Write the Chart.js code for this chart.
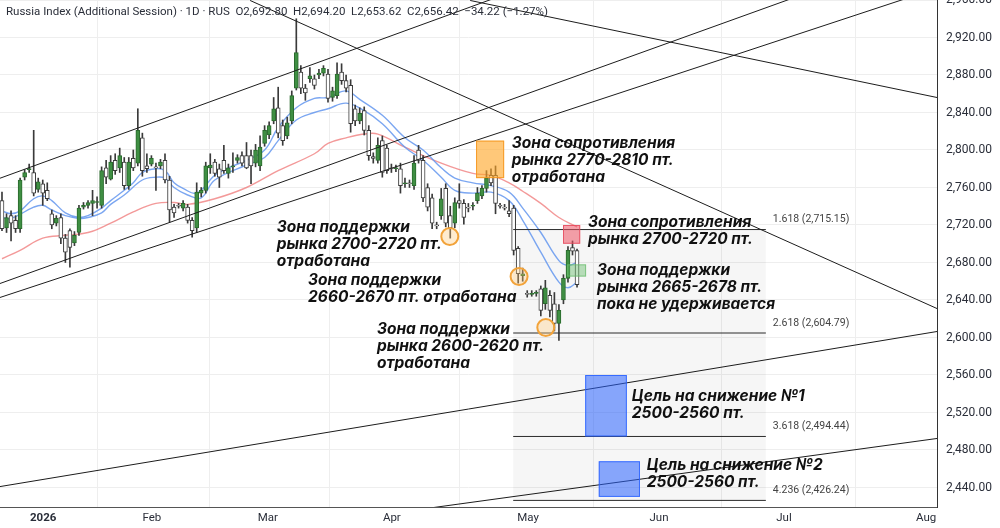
<!DOCTYPE html>
<html>
<head>
<meta charset="utf-8">
<script src="https://cdn.jsdelivr.net/npm/chart.js@4.4.1/dist/chart.umd.min.js"></script>
<style>
  html, body { margin: 0; padding: 0; background: #fff; }
  #wrap { width: 1000px; height: 528px; position: relative; }
</style>
</head>
<body>
<div id="wrap"><canvas id="chart" width="1000" height="528"></canvas></div>
<script>
// дневные свечи (индекс бара = порядковый номер дня на графике)
const opens  = [2746,2717,2730,2725,2716,2771,2779,2776,2758,2764,2757,2732,2722,2728,2706,2714,2701,2712,2739,2741,
                2743,2744,2741,2781,2769,2789,2781,2787,2762,2791,2786,2813,2783,2785,2782,2783,2789,2768,2739,2741,
                2738,2739,2725,2717,2754,2757,2781,2787,2780,2789,2775,2782,2789,2794,2794,2794,2786,2783,2807,2816,
                2831,2845,2826,2815,2831,2866,2883,2866,2876,2876,2880,2882,2881,2856,2858,2883,2874,2869,2844,2831,
                2842,2821,2793,2789,2810,2802,2781,2780,2780,2764,2765,2762,2800,2789,2760,2749,2720,2730,2759,2730,
                2722,2746,2743,2739,2740,2746,2751,2759,2773,2773,2741,2739,2735,2738,2695,2666,2647,2646,2647,2652,
                2636,2645,2636,2615,2640,2663,2696,2692.80];
const highs  = [2755,2732,2735,2730,2770,2779,2785,2821,2770,2768,2765,2736,2730,2732,2710,2716,2713,2741,2744,2746,
                2757,2750,2782,2789,2794,2796,2802,2792,2792,2800,2844,2818,2796,2794,2786,2790,2796,2772,2742,2743,
                2746,2742,2728,2765,2760,2787,2796,2790,2785,2805,2785,2797,2795,2798,2808,2800,2806,2815,2826,2830,
                2856,2867,2832,2835,2863,2940,2890,2870,2888,2880,2886,2890,2886,2867,2893,2892,2880,2875,2848,2845,
                2846,2826,2797,2813,2815,2805,2785,2784,2786,2770,2768,2794,2805,2794,2764,2753,2723,2759,2764,2740,
                2749,2764,2747,2743,2744,2760,2762,2778,2780,2783,2743,2742,2746,2741,2697,2674,2650,2650,2650,2655,
                2661,2650,2648,2635,2667,2697,2703,2694.20];
const lows   = [2714,2712,2703,2712,2712,2768,2776,2751,2755,2741,2746,2716,2719,2700,2680,2675,2698,2709,2737,2738,
                2730,2738,2738,2764,2768,2774,2776,2758,2758,2778,2783,2772,2776,2783,2757,2780,2765,2723,2728,2738,
                2735,2722,2707,2712,2750,2754,2775,2772,2760,2775,2770,2776,2786,2783,2780,2764,2782,2778,2804,2812,
                2828,2813,2805,2812,2828,2864,2860,2853,2872,2865,2876,2879,2851,2852,2855,2870,2862,2819,2826,2828,
                2816,2789,2786,2786,2771,2775,2776,2777,2754,2760,2760,2758,2786,2745,2735,2716,2716,2726,2718,2706,
                2717,2738,2721,2734,2736,2743,2748,2755,2762,2732,2738,2736,2729,2688,2658,2660,2643,2644,2644,2623,
                2630,2622,2607,2597,2636,2659,2688,2653.62];
const closes = [2716,2728,2722,2716,2768,2776,2780,2754,2766,2754,2748,2720,2727,2706,2691,2696,2709,2738,2741,2744,
                2746,2745,2778,2771,2787,2778,2794,2762,2787,2781,2821,2778,2780,2791,2781,2787,2768,2736,2733,2740,
                2743,2725,2714,2755,2757,2783,2784,2775,2771,2778,2781,2783,2792,2786,2781,2783,2800,2803,2821,2826,
                2844,2818,2810,2829,2858,2904,2866,2861,2879,2869,2882,2887,2855,2863,2881,2874,2866,2828,2831,2839,
                2821,2794,2791,2805,2776,2778,2780,2781,2762,2765,2764,2786,2789,2749,2739,2722,2719,2748,2722,2717,
                2744,2743,2728,2738,2741,2754,2759,2770,2765,2743,2740,2738,2732,2693,2668,2668,2646,2647,2647,2629,
                2653,2629,2615,2629,2663,2693,2692,2656.42];

// скользящие средние (бар -> значение)
const emaFastBars = [0,2,4,7,9,11,14,17,19,22,24,27,29,31,34,36,38,40,43,47,50,54,58,61,65,69,72,76,79,84,89,93,97,100,104,108,112,115,119,123,125,127];
const emaFastVals = [2735,2732,2735,2748,2751,2746,2733,2728,2730,2738,2746,2757,2765,2776,2780,2778,2765,2759,2754,2773,2781,2789,2800,2824,2845,2855,2856,2863,2854,2837,2813,2800,2781,2770,2765,2762,2755,2738,2712,2682,2677,2680];
const emaSlowBars = [0,2,7,9,11,14,17,19,22,24,27,31,34,36,38,41,44,47,54,58,61,65,69,72,76,80,84,89,93,97,100,104,108,112,115,119,123,125,127];
const emaSlowVals = [2728,2727,2739,2741,2736,2730,2727,2728,2733,2742,2752,2768,2771,2770,2760,2752,2749,2768,2784,2792,2810,2832,2840,2844,2850,2842,2828,2803,2789,2771,2757,2754,2755,2746,2725,2691,2659,2653,2659];
const smaLongBars = [0,4,9,14,19,24,29,34,38,41,47,54,61,69,72,76,80,83,89,97,104,108,112,115,119,123,127];
const smaLongVals = [2684,2693,2706,2709,2712,2722,2734,2743,2744,2742,2748,2760,2778,2796,2807,2813,2817,2817,2803,2786,2775,2773,2765,2756,2743,2728,2718];

// шкалы
const priceTicks = [2440,2480,2520,2560,2600,2640,2680,2720,2760,2800,2840,2880,2920,2960];
const monthLabels = ['2026','Feb','Mar','Apr','May','Jun','Jul','Aug'];
const monthBars = [9.1,33.1,58.7,86.1,116.2,145.1,172.7,204.1];

// уровни Фибоначчи
const fibRatios = ['1.618','2.618','3.618','4.236'];
const fibPrices = [2715.15,2604.79,2494.44,2426.24];
const fibFromBar = 112.9, fibToBar = 168.7;

// зоны (прямоугольники)
const zoneFromBar = [104.7,123.9,124.8,128.8,131.8];
const zoneToBar   = [110.9,127.7,129.0,138.0,140.9];
const zoneTop     = [2810,2720,2678,2560,2468];
const zoneBottom  = [2770,2700,2665,2494.44,2430];
const zoneFill   = ['rgba(255,167,38,0.62)','rgba(239,83,100,0.55)','rgba(102,187,106,0.45)','rgba(41,98,255,0.55)','rgba(41,98,255,0.55)'];
const zoneStroke = ['rgba(245,150,30,0.9)','rgba(230,70,90,0.8)','rgba(102,187,106,0.7)','rgba(41,98,255,0.85)','rgba(41,98,255,0.85)'];

// отметки касаний (кружки)
const touchBars = [98.9,114.2,120.1];
const touchPrices = [2707.7,2665.1,2610.7];

// трендовые линии: [бар1, цена1, бар2, цена2]
const trendLines = [
  [-0.44,2769.9,143.8,3023.5],
  [-0.44,2657.6,206.5,3017.4],
  [-0.44,2642.7,206.5,2972.5],
  [54.8,2959.5,206.5,2630.9],
  [103.4,2959.5,206.5,2856.0],
  [-0.44,2441.0,206.5,2606.4],
  [95.4,2418.7,206.5,2492.3]
];

const notes = [
  {bar:112.6, price:2806.9, lines:['Зона сопротивления','рынка 2770-2810 пт.','отработана']},
  {bar:60.7,  price:2717.3, lines:['Зона поддержки','рынка 2700-2720 пт.','отработана']},
  {bar:67.6,  price:2660.8, lines:['Зона поддержки','2660-2670 пт. отработана']},
  {bar:82.8,  price:2608.5, lines:['Зона поддержки','рынка 2600-2620 пт.','отработана']},
  {bar:129.4, price:2722.7, lines:['Зона сопротивления','рынка 2700-2720 пт.']},
  {bar:131.4, price:2671.5, lines:['Зона поддержки','рынка 2665-2678 пт.','пока не удерживается']},
  {bar:139.1, price:2537,   lines:['Цель на снижение №1','2500-2560 пт.']},
  {bar:142.4, price:2463.5, lines:['Цель на снижение №2','2500-2560 пт.']}
];

const titleText = 'Russia Index (Additional Session) · 1D · RUS  O2,692.80  H2,694.20  L2,653.62  C2,656.42  −34.22 (−1.27%)';

const idx = opens.map((_, i) => i);
const wickData = idx.map(i => ({x: i, y: [lows[i], highs[i]]}));
const bodyData = idx.map(i => ({x: i, y: [opens[i], closes[i]]}));
const isUp = idx.map(i => closes[i] >= opens[i]);

const pts = (bars, vals) => bars.map((b, i) => ({x: b, y: vals[i]}));

const datasets = [];
datasets.push({
  type: 'bar', data: bodyData, order: 1, grouped: false,
  barThickness: 4, minBarLength: 1, borderSkipped: false, borderWidth: 1,
  backgroundColor: isUp.map(u => u ? '#3f8f43' : '#ffffff'),
  borderColor: isUp.map(u => u ? '#2a6a2d' : '#3a3a3a')
});
datasets.push({
  type: 'bar', data: wickData, order: 2, grouped: false,
  barThickness: 1, backgroundColor: '#3a3a3a', borderWidth: 0
});
datasets.push({type: 'line', data: pts(emaFastBars, emaFastVals), borderColor: 'rgba(100,150,238,0.85)', borderWidth: 1.4, pointRadius: 0, tension: 0.4, order: 3});
datasets.push({type: 'line', data: pts(emaSlowBars, emaSlowVals), borderColor: 'rgba(100,150,238,0.85)', borderWidth: 1.4, pointRadius: 0, tension: 0.4, order: 3});
datasets.push({type: 'line', data: pts(smaLongBars, smaLongVals), borderColor: 'rgba(238,110,110,0.7)', borderWidth: 1.4, pointRadius: 0, tension: 0.4, order: 3});
trendLines.forEach(l => datasets.push({
  type: 'line', data: [{x: l[0], y: l[1]}, {x: l[2], y: l[3]}],
  borderColor: '#1c1c1c', borderWidth: 1, pointRadius: 0, order: 0
}));
fibPrices.forEach(p => datasets.push({
  type: 'line', data: [{x: fibFromBar, y: p}, {x: fibToBar, y: p}],
  borderColor: '#2a2a2a', borderWidth: 1, pointRadius: 0, order: 0
}));
datasets.push({
  type: 'line', data: pts(touchBars, touchPrices), showLine: false, order: -1,
  pointRadius: 8.5, pointStyle: 'circle', pointBorderWidth: 2,
  pointBorderColor: '#f2a33a', pointBackgroundColor: 'rgba(255,200,120,0.35)'
});

const overlays = {
  id: 'overlays',
  beforeDatasetsDraw(chart) {
    const {ctx, scales: {x, y}} = chart;
    ctx.save();
    ctx.fillStyle = 'rgba(0,0,0,0.035)';
    const x1 = x.getPixelForValue(fibFromBar), x2 = x.getPixelForValue(fibToBar);
    const y1 = y.getPixelForValue(fibPrices[0]), y2 = y.getPixelForValue(fibPrices[3]);
    ctx.fillRect(x1, y1, x2 - x1, y2 - y1);
    ctx.restore();
  },
  afterDatasetsDraw(chart) {
    const {ctx, scales: {x, y}} = chart;
    ctx.save();
    // зоны
    zoneTop.forEach((t, i) => {
      const l = x.getPixelForValue(zoneFromBar[i]), r = x.getPixelForValue(zoneToBar[i]);
      const tp = y.getPixelForValue(t), bt = y.getPixelForValue(zoneBottom[i]);
      ctx.fillStyle = zoneFill[i];
      ctx.fillRect(l, tp, r - l, bt - tp);
      ctx.strokeStyle = zoneStroke[i];
      ctx.lineWidth = 1;
      ctx.strokeRect(l + 0.5, tp + 0.5, r - l - 1, bt - tp - 1);
    });
    // подписи уровней Фибоначчи
    ctx.font = '10.5px Roboto, "Liberation Sans", sans-serif';
    ctx.fillStyle = '#444';
    ctx.textBaseline = 'middle';
    fibPrices.forEach((p, i) => {
      const label = fibRatios[i] + ' (' + p.toLocaleString('en-US', {minimumFractionDigits: 2}) + ')';
      ctx.fillText(label, x.getPixelForValue(fibToBar) + 7, y.getPixelForValue(p) - 10);
    });
    // текстовые комментарии
    ctx.font = 'italic 700 15.5px Inter, "Open Sans", sans-serif';
    ctx.fillStyle = '#111';
    notes.forEach(n => {
      const px = x.getPixelForValue(n.bar), py = y.getPixelForValue(n.price);
      n.lines.forEach((s, k) => ctx.fillText(s, px, py + k * 16.8));
    });
    // заголовок
    ctx.font = '11.5px Roboto, "Liberation Sans", sans-serif';
    ctx.fillStyle = '#2a2e39';
    ctx.fillText(titleText, 6, 12);
    ctx.restore();
  }
};

new Chart(document.getElementById('chart'), {
  type: 'bar',
  data: {datasets},
  plugins: [overlays],
  options: {
    responsive: false,
    animation: false,
    devicePixelRatio: 1,
    layout: {padding: 0, autoPadding: false},
    plugins: {legend: {display: false}, tooltip: {enabled: false}},
    scales: {
      x: {
        type: 'linear', min: -0.44, max: 206.5, offset: false,
        grid: {color: '#eeeeee', drawTicks: false},
        border: {display: true, color: '#555'},
        afterBuildTicks: s => { s.ticks = monthBars.map(v => ({value: v})); },
        afterFit: s => { s.height = 21; s.paddingLeft = 0; s.paddingRight = 0; },
        ticks: {
          autoSkip: false, maxRotation: 0, padding: 4, color: '#2a2e39',
          font: c => ({family: 'Roboto, "Liberation Sans", sans-serif', size: 11.5, weight: c.index === 0 ? 'bold' : 'normal'}),
          callback: (v, i) => monthLabels[i]
        }
      },
      y: {
        type: 'linear', position: 'right', min: 2419.2, max: 2960,
        grid: {color: '#eeeeee', drawTicks: false},
        border: {display: true, color: '#333'},
        afterBuildTicks: s => { s.ticks = priceTicks.map(v => ({value: v})); },
        afterFit: s => { s.width = 63; s.paddingTop = 0; s.paddingBottom = 0; },
        ticks: {
          padding: 9, color: '#2a2e39',
          font: {family: 'Roboto, "Liberation Sans", sans-serif', size: 12},
          callback: v => v.toLocaleString('en-US', {minimumFractionDigits: 2, maximumFractionDigits: 2})
        }
      }
    }
  }
});
</script>
</body>
</html>
